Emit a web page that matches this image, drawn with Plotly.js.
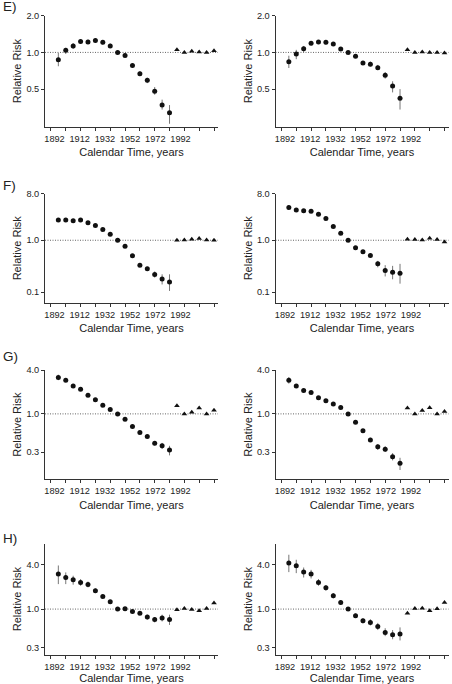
<!DOCTYPE html>
<html>
<head>
<meta charset="utf-8">
<script src="https://cdn.plot.ly/plotly-3.0.1.min.js"></script>
<style>html,body{margin:0;padding:0;background:#fff;}#chart{width:452px;height:684px;}</style>
</head>
<body>
<div id="chart"></div>
<script>
// ---------- DATA ----------
const circleYears = [1897,1902,1907,1912,1917,1922,1927,1932,1937,1942,1947,1952,1957,1962,1967,1972];
const triangleYears = [1977,1982,1987,1992,1997,2002];
const xTickText = ['1892','1912','1932','1952','1972','1992'];

// Panel E
const eLeftRR  = [0.87,1.04,1.13,1.23,1.22,1.25,1.21,1.13,1.00,0.945,0.78,0.67,0.59,0.48,0.37,0.32];
const eLeftLo  = [0.77,0.97,1.07,1.18,1.17,1.20,1.16,1.09,0.97,0.91,0.75,0.64,0.56,0.45,0.34,0.26];
const eLeftHi  = [0.99,1.09,1.19,1.28,1.27,1.30,1.26,1.18,1.03,0.98,0.81,0.70,0.62,0.52,0.41,0.37];
const eLeftTri = [1.05,1.00,1.02,1.01,1.00,1.03];
const eRightRR  = [0.84,0.97,1.07,1.19,1.215,1.21,1.17,1.065,1.00,0.93,0.82,0.80,0.75,0.65,0.53,0.42];
const eRightLo  = [0.745,0.88,1.00,1.14,1.17,1.16,1.13,1.03,0.97,0.90,0.79,0.77,0.72,0.61,0.47,0.34];
const eRightHi  = [0.94,1.05,1.13,1.24,1.26,1.25,1.21,1.10,1.03,0.96,0.85,0.84,0.79,0.69,0.58,0.50];
const eRightTri = [1.05,1.00,1.01,1.00,1.00,0.99];

// Panel F
const fLeftRR  = [2.47,2.47,2.37,2.47,2.17,1.92,1.61,1.31,1.00,0.765,0.50,0.33,0.28,0.217,0.179,0.156];
const fLeftLo  = [2.30,2.30,2.22,2.32,2.05,1.82,1.53,1.25,0.96,0.73,0.47,0.31,0.26,0.19,0.14,0.105];
const fLeftHi  = [2.65,2.65,2.53,2.63,2.30,2.03,1.70,1.37,1.04,0.80,0.53,0.35,0.305,0.25,0.22,0.22];
const fLeftTri = [1.00,1.015,1.045,1.08,1.015,1.00];
const fRightRR  = [4.29,3.86,3.70,3.64,3.19,2.63,1.84,1.37,1.00,0.72,0.60,0.51,0.35,0.26,0.24,0.23];
const fRightLo  = [3.90,3.60,3.45,3.40,3.00,2.47,1.74,1.30,0.96,0.68,0.56,0.47,0.30,0.20,0.176,0.145];
const fRightHi  = [4.70,4.15,3.95,3.90,3.40,2.80,1.95,1.45,1.04,0.77,0.65,0.56,0.40,0.33,0.32,0.35];
const fRightTri = [1.045,1.03,1.015,1.09,1.03,0.93];

// Panel G
const gLeftRR  = [3.15,2.89,2.42,2.18,1.80,1.56,1.31,1.15,1.00,0.845,0.67,0.555,0.49,0.396,0.365,0.32];
const gLeftLo  = [2.90,2.75,2.30,2.08,1.72,1.49,1.25,1.10,0.96,0.81,0.64,0.53,0.465,0.37,0.33,0.27];
const gLeftHi  = [3.45,3.05,2.55,2.29,1.89,1.63,1.37,1.20,1.04,0.88,0.70,0.58,0.515,0.42,0.40,0.365];
const gLeftTri = [1.29,1.00,1.05,1.20,1.00,1.12];
const gRightRR  = [2.89,2.42,2.09,1.96,1.67,1.52,1.37,1.22,1.00,0.77,0.585,0.44,0.353,0.328,0.258,0.211];
const gRightLo  = [2.60,2.28,1.98,1.87,1.60,1.46,1.31,1.17,0.96,0.74,0.56,0.415,0.32,0.30,0.23,0.17];
const gRightHi  = [3.20,2.56,2.20,2.06,1.75,1.59,1.43,1.27,1.04,0.80,0.61,0.47,0.385,0.36,0.29,0.25];
const gRightTri = [1.20,1.00,1.11,1.21,1.00,1.076];

// Panel H
const hLeftRR  = [2.98,2.68,2.50,2.30,2.16,1.77,1.48,1.26,1.00,1.01,0.93,0.88,0.78,0.72,0.755,0.72];
const hLeftLo  = [2.18,2.18,2.14,2.07,1.97,1.65,1.41,1.20,0.96,0.97,0.89,0.84,0.72,0.66,0.68,0.61];
const hLeftHi  = [3.90,3.14,2.83,2.55,2.36,1.90,1.56,1.32,1.04,1.05,0.97,0.93,0.84,0.78,0.84,0.84];
const hLeftTri = [0.98,1.02,0.99,0.95,1.02,1.21];
const hRightRR  = [4.20,3.86,3.17,2.98,2.30,1.95,1.52,1.23,1.00,0.81,0.695,0.66,0.58,0.48,0.45,0.46];
const hRightLo  = [3.17,3.07,2.68,2.60,2.07,1.78,1.40,1.14,0.96,0.76,0.64,0.60,0.52,0.43,0.39,0.376];
const hRightHi  = [5.45,4.66,3.66,3.40,2.55,2.12,1.65,1.32,1.04,0.87,0.75,0.73,0.65,0.55,0.52,0.565];
const hRightTri = [0.88,1.02,1.03,0.95,1.01,1.23];

// y-axis tick values / labels per row
const eTickVals = [0.5,1,2];   const eTickText = ['0.5','1.0','2.0'];
const fTickVals = [0.1,1,8];   const fTickText = ['0.1','1.0','8.0'];
const gTickVals = [0.3,1,4];   const gTickText = ['0.3','1.0','4.0'];
const hTickVals = [0.3,1,4];   const hTickText = ['0.3','1.0','4.0'];

// ---------- LAYOUT CONSTANTS ----------
const W = 452, H = 684;
const FONT = 'Liberation Sans, Arial, Helvetica, sans-serif';
const INK = '#222';
const AXIS = '#333';
const TICK_SIZE = 9.2, TITLE_SIZE = 11;
const X_RANGE = [1888.0, 2004.7];
const LABEL_START = 1894.4, LABEL_STEP = 17;   // label placement as in the reference
const colPx = [[45, 218], [275.5, 448.5]];
const rows = [
  {tag:'E)', tagY:7,   top:15.7,  bottom:126.7, range:[-0.609,0.301], tv:eTickVals, tt:eTickText,
   series:[[eLeftRR,eLeftLo,eLeftHi,eLeftTri],[eRightRR,eRightLo,eRightHi,eRightTri]]},
  {tag:'F)', tagY:185, top:193.5, bottom:303,   range:[-1.212,0.903], tv:fTickVals, tt:fTickText,
   series:[[fLeftRR,fLeftLo,fLeftHi,fLeftTri],[fRightRR,fRightLo,fRightHi,fRightTri]]},
  {tag:'G)', tagY:357, top:370,   bottom:479.3, range:[-0.897,0.602], tv:gTickVals, tt:gTickText,
   series:[[gLeftRR,gLeftLo,gLeftHi,gLeftTri],[gRightRR,gRightLo,gRightHi,gRightTri]]},
  {tag:'H)', tagY:538, top:543.7, bottom:654.7, range:[-0.618,0.886], tv:hTickVals, tt:hTickText,
   series:[[hLeftRR,hLeftLo,hLeftHi,hLeftTri],[hRightRR,hRightLo,hRightHi,hRightTri]]}
];

const xLabelPos = xTickText.map((_, i) => LABEL_START + i * LABEL_STEP);

const traces = [];
const layout = {
  width: W, height: H,
  margin: {l:0, r:0, t:0, b:0},
  paper_bgcolor: '#fff', plot_bgcolor: '#fff',
  showlegend: false,
  font: {family: FONT, size: TICK_SIZE, color: INK},
  shapes: [], annotations: []
};

let k = 0;
rows.forEach((row) => {
  layout.annotations.push({
    text: row.tag, xref:'paper', yref:'paper', x:0.002, y:1 - row.tagY / H,
    xanchor:'left', yanchor:'middle', showarrow:false,
    font:{family:FONT, size:13.5, color:INK}
  });
  [0, 1].forEach((c) => {
    k += 1;
    const sx = k === 1 ? '' : String(k);
    const xa = 'x' + sx, ya = 'y' + sx;
    const [rr, lo, hi, tri] = row.series[c];
    layout.shapes.push({
      type:'line', xref: xa + ' domain', yref: ya, x0:0, x1:1, y0:1, y1:1,
      line:{color:'#666', width:1, dash:'1px,1.5px'}, layer:'below'
    });
    traces.push({
      type:'scatter', mode:'markers', x: circleYears, y: rr, xaxis: xa, yaxis: ya,
      marker:{symbol:'circle', size:5, color:'#111'},
      error_y:{type:'data', symmetric:false,
        array: hi.map((v, i) => v - rr[i]),
        arrayminus: lo.map((v, i) => rr[i] - v),
        color:'#777', thickness:1, width:0},
      hoverinfo:'x+y'
    });
    traces.push({
      type:'scatter', mode:'markers', x: triangleYears, y: tri, xaxis: xa, yaxis: ya,
      marker:{symbol:'triangle-up', size:5, color:'#111'},
      hoverinfo:'x+y'
    });
    layout['xaxis' + sx] = {
      domain:[colPx[c][0] / W, colPx[c][1] / W],
      anchor: ya, range: X_RANGE, showgrid:false, zeroline:false,
      showline:true, linecolor:AXIS, linewidth:1,
      tickmode:'array', tickvals: xLabelPos, ticktext: xTickText,
      ticks:'outside', ticklen:3, tickcolor:'rgba(0,0,0,0)',
      minor:{tickmode:'linear', tick0:1892, dtick:10, ticks:'outside', ticklen:3, tickcolor:AXIS, tickwidth:1, showgrid:false},
      tickfont:{family:FONT, size:TICK_SIZE, color:INK},
      title:{text:'Calendar Time, years', font:{family:FONT, size:TITLE_SIZE, color:INK}, standoff:5},
      automargin:false, fixedrange:true
    };
    layout['yaxis' + sx] = {
      domain:[1 - row.bottom / H, 1 - row.top / H],
      anchor: xa, type:'log', range: row.range, showgrid:false, zeroline:false,
      showline:true, linecolor:AXIS, linewidth:1,
      tickmode:'array', tickvals: row.tv, ticktext: row.tt,
      ticks:'outside', ticklen:3, tickcolor:AXIS,
      tickfont:{family:FONT, size:TICK_SIZE, color:INK},
      title:{text:'Relative Risk', font:{family:FONT, size:TITLE_SIZE, color:INK}, standoff:2},
      automargin:false, fixedrange:true
    };
  });
});

Plotly.newPlot('chart', traces, layout, {staticPlot:true, displayModeBar:false});
</script>
</body>
</html>
